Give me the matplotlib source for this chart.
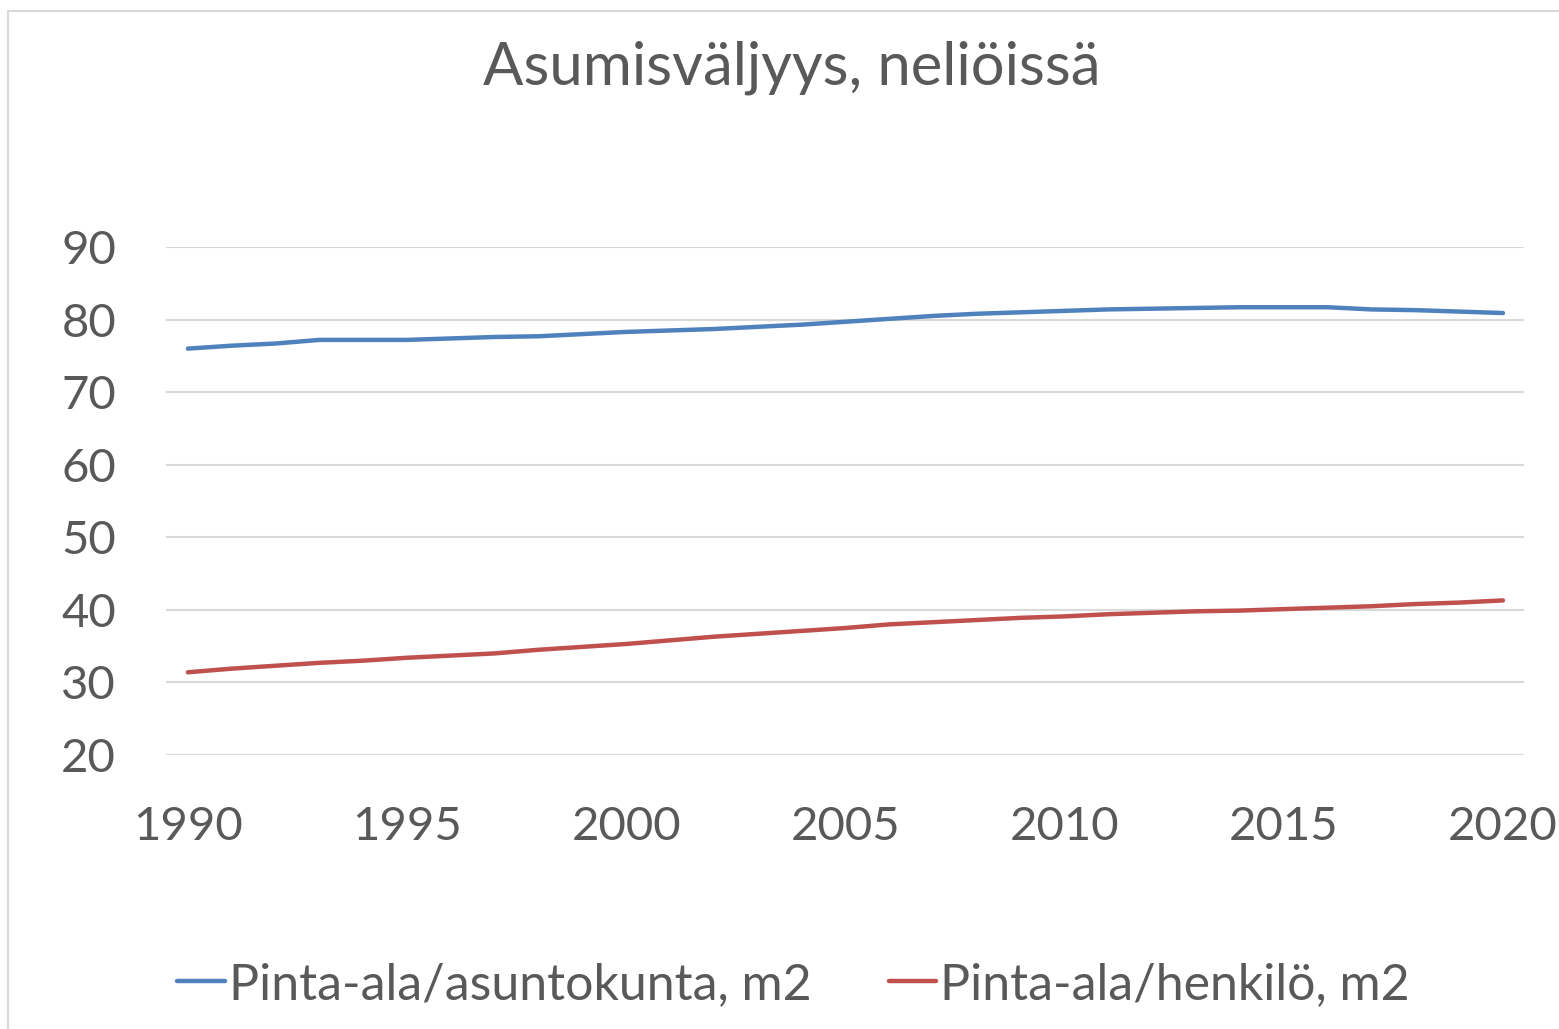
import matplotlib
matplotlib.use("Agg")
import matplotlib.pyplot as plt
from matplotlib.lines import Line2D

plt.rcParams['font.family'] = ['Lato', 'DejaVu Sans']

# data
years = list(range(1990, 2021))
per_household = [76.0, 76.4, 76.7, 77.2, 77.2, 77.2, 77.4, 77.6, 77.7, 78.0,
                 78.3, 78.5, 78.7, 79.0, 79.3, 79.7, 80.1, 80.5, 80.8, 81.0,
                 81.2, 81.4, 81.5, 81.6, 81.7, 81.7, 81.7, 81.4, 81.3, 81.1,
                 80.9]
per_person = [31.4, 31.9, 32.3, 32.7, 33.0, 33.4, 33.7, 34.0, 34.5, 34.9,
              35.3, 35.8, 36.3, 36.7, 37.1, 37.5, 38.0, 38.3, 38.6, 38.9,
              39.1, 39.4, 39.6, 39.8, 39.9, 40.1, 40.3, 40.5, 40.8, 41.0,
              41.3]
labels = ["Pinta-ala/asuntokunta, m2", "Pinta-ala/henkilö, m2"]
title = "Asumisväljyys, neliöissä"

txt = "#595959"
fig = plt.figure(figsize=(15.59, 10.29), dpi=100)

# chart border (only left and top edges visible in the crop)
top = 1 - 10.5 / 1029
left = 7.5 / 1559
fig.lines.append(Line2D([left, 1], [top, top], transform=fig.transFigure,
                        color="#D9D9D9", linewidth=1.5))
fig.lines.append(Line2D([left, left], [0, top], transform=fig.transFigure,
                        color="#D9D9D9", linewidth=1.5))

ax = fig.add_axes([166 / 1559, 1 - 755 / 1029, 1358 / 1559, 508 / 1029])
ax.plot(years, per_household, color="#4F81BD", linewidth=3.2, label=labels[0],
        solid_capstyle="round")
ax.plot(years, per_person, color="#C0504D", linewidth=3.2, label=labels[1],
        solid_capstyle="round")

ax.set_xlim(1989.5, 2020.48)
ax.set_ylim(20, 90)
ax.set_yticks(range(20, 91, 10))
ax.set_xticks(range(1990, 2021, 5))
ax.grid(axis="y", color="#D9D9D9", linewidth=1.5)
ax.set_axisbelow(True)
for s in ax.spines.values():
    s.set_visible(False)
ax.tick_params(length=0, labelsize=34, labelcolor=txt)
ax.tick_params(axis="y", pad=36)
ax.tick_params(axis="x", pad=37)

fig.text(0.508, 0.934, title, ha="center", va="center", fontsize=43, color=txt)

fig.legend(loc="center", bbox_to_anchor=(0.509, 0.043), ncol=2, frameon=False,
           fontsize=36, labelcolor=txt, handlelength=0.95, handletextpad=0.08,
           columnspacing=1.55)

plt.savefig("out.png")
